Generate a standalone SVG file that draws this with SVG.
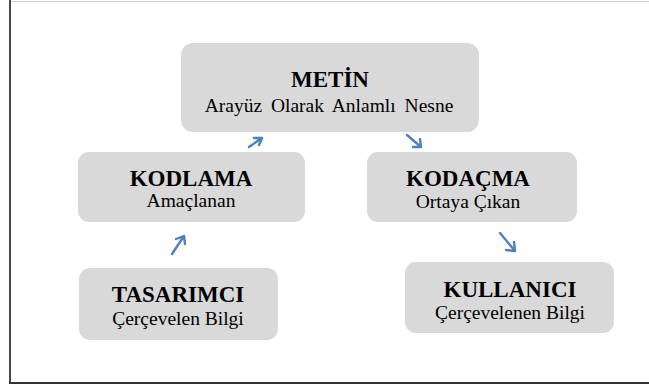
<svg xmlns="http://www.w3.org/2000/svg" width="649" height="385" viewBox="0 0 649 385">
<style>
.box{fill:#d9d9d9;}
.t{font-family:"Liberation Serif","Times New Roman",serif;font-weight:bold;font-size:23px;fill:#000;text-anchor:middle;}
.s{font-family:"Liberation Serif","Times New Roman",serif;font-size:19.5px;fill:#000;text-anchor:middle;}
.a{fill:none;stroke:#4f81bd;stroke-width:2.4;stroke-linecap:round;stroke-linejoin:round;}
</style>
<rect x="0" y="0" width="649" height="385" fill="#ffffff"/>
<g id="frame">
<line x1="10" y1="1.5" x2="649" y2="1.5" stroke="#d0d0d0" stroke-width="1"/>
<line x1="10" y1="0" x2="10" y2="384" stroke="#4a4a4a" stroke-width="2"/>
<line x1="9" y1="383" x2="649" y2="383" stroke="#333333" stroke-width="2"/>
</g>
<g id="metin">
<rect class="box" x="181" y="43" width="298" height="89" rx="12"/>
<text class="t" x="330" y="87">METİN</text>
<text class="s" x="329" y="112" word-spacing="4">Arayüz Olarak Anlamlı Nesne</text>
</g>
<g id="kodlama">
<rect class="box" x="78" y="152" width="227" height="70" rx="11"/>
<text class="t" x="191" y="186">KODLAMA</text>
<text class="s" x="191" y="207">Amaçlanan</text>
</g>
<g id="kodacma">
<rect class="box" x="367" y="152" width="210" height="70" rx="11"/>
<text class="t" x="468" y="186">KODAÇMA</text>
<text class="s" x="468" y="208">Ortaya Çıkan</text>
</g>
<g id="tasarimci">
<rect class="box" x="79" y="268" width="199" height="72" rx="11"/>
<text class="t" x="178" y="302">TASARIMCI</text>
<text class="s" x="178" y="325">Çerçevelen Bilgi</text>
</g>
<g id="kullanici">
<rect class="box" x="405" y="262" width="209" height="71" rx="11"/>
<text class="t" x="510" y="297">KULLANICI</text>
<text class="s" x="510" y="319">Çerçevelenen Bilgi</text>
</g>
<g id="connectors">
<path class="a" d="M249 147 L262 138 M254 138 L262 138 L259 145"/>
<path class="a" d="M407 135 L421 147 M413 147 L421 147 L420 139"/>
<path class="a" d="M172 254 L184 236 M176 239 L184 236 L185 244"/>
<path class="a" d="M500 233 L515 251 M506 250 L515 251 L514 242"/>
</g>
</svg>
